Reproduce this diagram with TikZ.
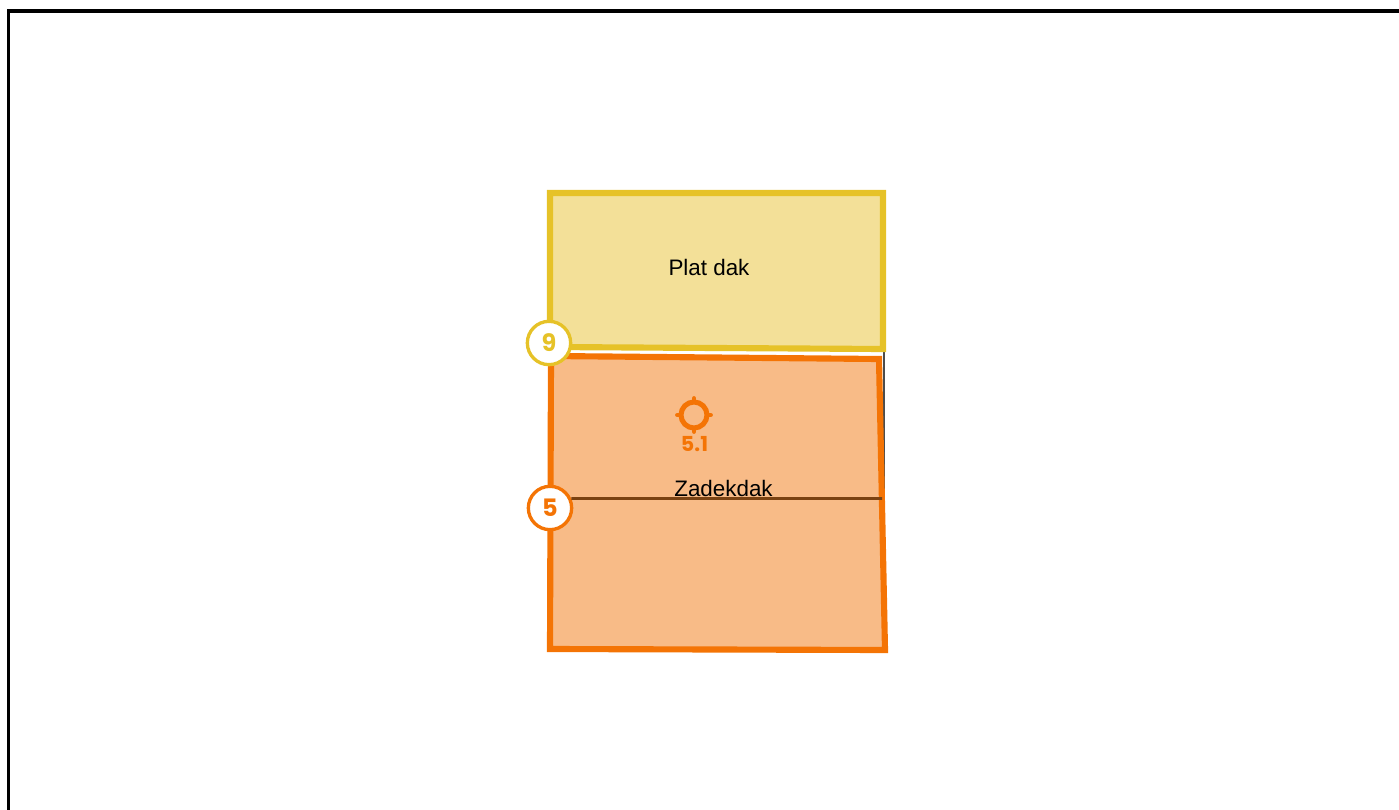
\documentclass[tikz,border=0pt]{standalone}
\usepackage{fontspec}
\setmainfont{Liberation Sans}
\newfontfamily\badgefont{Poppins}[UprightFont=* Bold]
\definecolor{dakorange}{HTML}{F47405}
\definecolor{dakyellow}{HTML}{E6C228}
\definecolor{fillorange}{HTML}{F8BB87}
\definecolor{fillyellow}{HTML}{F3E098}
\definecolor{seambrown}{HTML}{7A4212}
\begin{document}
\begin{tikzpicture}[x=0.75pt,y=-0.75pt,line join=miter,
  main node/.style={circle,draw,fill=white,line width=2.5pt,minimum size=32.5pt,inner sep=0pt,font=\badgefont\fontsize{18pt}{18pt}\selectfont},
  roof label/.style={font=\fontsize{16.8pt}{18pt}\selectfont,text=black,inner sep=0pt},
  tick/.style={draw=dakorange,line width=3.6pt,line cap=round}]
\useasboundingbox (0,0) rectangle (1399,810);
% frame, open at the right and at the bottom
\coordinate (f1) at (8.5,810);
\coordinate (f2) at (8.5,11);
\coordinate (f3) at (1399,11);
\draw[line width=2.3pt,black] (f1) -- (f2) -- (f3);
\coordinate (g1) at (884,352);
\coordinate (g2) at (884,508);
\draw[line width=2pt,black!70] (g1) -- (g2);
% roof faces
\begin{scope}[line width=4.6pt]
\draw[draw=dakyellow,fill=fillyellow] (550,193) -- (883,193) -- (883,349) -- (550,347) -- cycle;
\draw[draw=dakorange,fill=fillorange] (551,356) -- (879,359) -- (885,650) -- (550,649) -- cycle;
\end{scope}
\node[roof label] (plat) at (709,267.3) {Plat dak};
\node[roof label] (zadek) at (723.5,488.5) {Zadekdak};
% target mark
\node[circle,draw=dakorange,line width=3.8pt,minimum size=19.5pt,inner sep=0pt] (target) at (694,415) {};
\draw[tick] (target.north) ++(0,2) -- ++(0,-3);
\draw[tick] (target.south) ++(0,-2) -- ++(0,3);
\draw[tick] (target.west) ++(2,0) -- ++(-3,0);
\draw[tick] (target.east) ++(-2,0) -- ++(3,0);
\node[font=\badgefont\fontsize{15.5pt}{16pt}\selectfont,text=dakorange,inner sep=0pt] (t51) at (694.5,444.5) {5.1};
% badges
\node[main node,draw=dakyellow,text=dakyellow] (b9) at (549,343) {9};
\node[main node,draw=dakorange,text=dakorange] (b5) at (550,508) {5};
\coordinate (s1) at (882,498.5);
\draw[line width=1.9pt,seambrown] (b5.24) -- (s1);
\end{tikzpicture}
\end{document}
